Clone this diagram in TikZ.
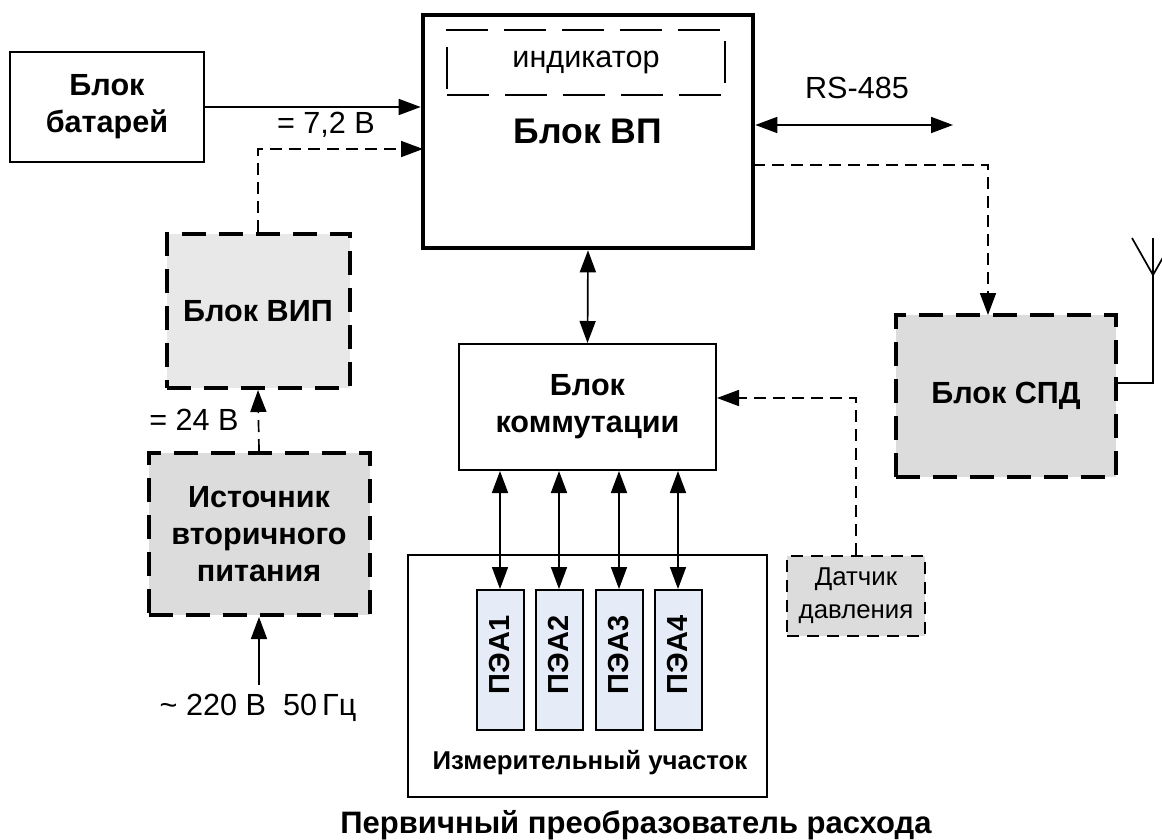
\documentclass[tikz,border=0pt]{standalone}
\usepackage{fontspec}
\setmainfont{Liberation Sans}
\usetikzlibrary{arrows.meta}

\definecolor{grayA}{HTML}{E8E8E8}
\definecolor{grayB}{HTML}{DCDCDC}
\definecolor{peablue}{HTML}{E6ECF7}

\tikzset{
  box/.style 2 args={draw, line width=1pt, minimum width=#1, minimum height=#2,
    inner sep=0pt, align=center, font=\bfseries\fontsize{15.3}{18.5}\selectfont},
  dbox/.style 2 args={box={#1}{#2}, line width=2pt, dash pattern=on 12pt off 6.5pt},
  lbl/.style={inner sep=0pt, font=\fontsize{15.3}{18}\selectfont},
  wire/.style={line width=0.85pt},
  dwire/.style={wire, dash pattern=on 6pt off 3.5pt},
  arr/.style={wire, -{Triangle[length=11pt,width=8pt]}},
  darr/.style={wire, {Triangle[length=11pt,width=8pt]}-{Triangle[length=11pt,width=8pt]}},
  pea/.style={draw, line width=1pt, fill=peablue, minimum width=23.5pt,
    minimum height=70pt, inner sep=0pt},
}

\begin{document}
\begin{tikzpicture}[x=0.5pt,y=-0.5pt]
%\draw [help lines, step=50] (0,0) grid (1162,840);
\useasboundingbox (0,0) rectangle (1162,840);

% main block with indicator
\node [box={165pt}{116.5pt}, line width=2.3pt, font=\bfseries\fontsize{17.8}{21}\selectfont] (vp) at (588,131.5) {Блок ВП};
\node [draw, line width=0.8pt, dash pattern=on 21pt off 8pt, minimum width=139pt, minimum height=32.5pt,
  inner sep=0pt, font=\fontsize{15.3}{18}\selectfont] (ind) at (586,62.5) {индикатор};

% power supply
\node [box={97pt}{55pt}] (bat) at (107,107) {Блок\\батарей};
\node [dbox={91.5pt}{77pt}, fill=grayA] (vip) at (258,311) {Блок ВИП};
\node [dbox={110.5pt}{81pt}, fill=grayB] (src) at (259,534) {Источник\\вторичного\\питания};
\coordinate (mains) at (259,685);
\coordinate (vpin) at (423,149);

\draw [arr] (bat.east) -- (bat.east -| vp.west);
\draw [dwire, arr] (vip.north) |- (vpin);
\draw [dwire, arr] (src.north) -- (vip.south);
\draw [arr] (mains) -- (src.south);

\node [lbl] (l72) at (326,125) {= 7,2 В};
\node [lbl] (l24) at (194,420) {= 24 В};
\node [lbl] (l220) at (258,708) {\textasciitilde\ 220 В \ 50\,Гц};

% RS-485 and radio link
\coordinate (rs) at (953,125);
\coordinate (vpout) at (753,165);
\node [lbl] (lrs) at (857,88) {RS-485};
\draw [darr] (vp.east |- rs) -- (rs);

\node [dbox={110pt}{81pt}, fill=grayB] (spd) at (1006,396) {Блок СПД};
\coordinate (spdin) at (988,315);
\draw [dwire, arr] (vpout) -| (spdin);

% antenna
\coordinate (ant) at (1153,275);
\draw [wire] (spd.east |- 0,383) -| (1153,238);
\draw [wire] (1132,238) -- (ant) -- (1174,238);

% commutation block
\node [box={128.5pt}{63pt}] (kom) at (587.5,407) {Блок\\коммутации};
\draw [darr] (vp.south) -- (kom.north);

\node [draw, line width=1.3pt, dash pattern=on 6pt off 4pt, fill=grayB, minimum width=69pt,
  minimum height=40pt, inner sep=0pt, align=center, font=\fontsize{12.9}{16.5}\selectfont] (dat) at (856,596) {Датчик\\давления};
\draw [dwire, arr] (dat.north) |- (kom.east |- 0,398);

% measuring section
\node [draw, line width=1pt, minimum width=179.5pt, minimum height=121pt] (meas) at (587.5,676) {};
\node [inner sep=0pt, font=\bfseries\fontsize{12.9}{15}\selectfont] (lmeas) at (590,763) {Измерительный участок};

\foreach \i/\x in {1/500, 2/559, 3/619, 4/678} {
  \node [pea] (pea\i) at (\x,660) {};
  \node [rotate=90, font=\bfseries\fontsize{14.5}{16}\selectfont] at ([yshift=2.5pt]pea\i.center) {ПЭА\i};
  \draw [darr] (pea\i.north) -- (pea\i.north |- kom.south);
}

\node [inner sep=0pt, font=\bfseries\fontsize{15.5}{18}\selectfont] (ltitle) at (636,825) {Первичный преобразователь расхода};

\end{tikzpicture}
\end{document}
